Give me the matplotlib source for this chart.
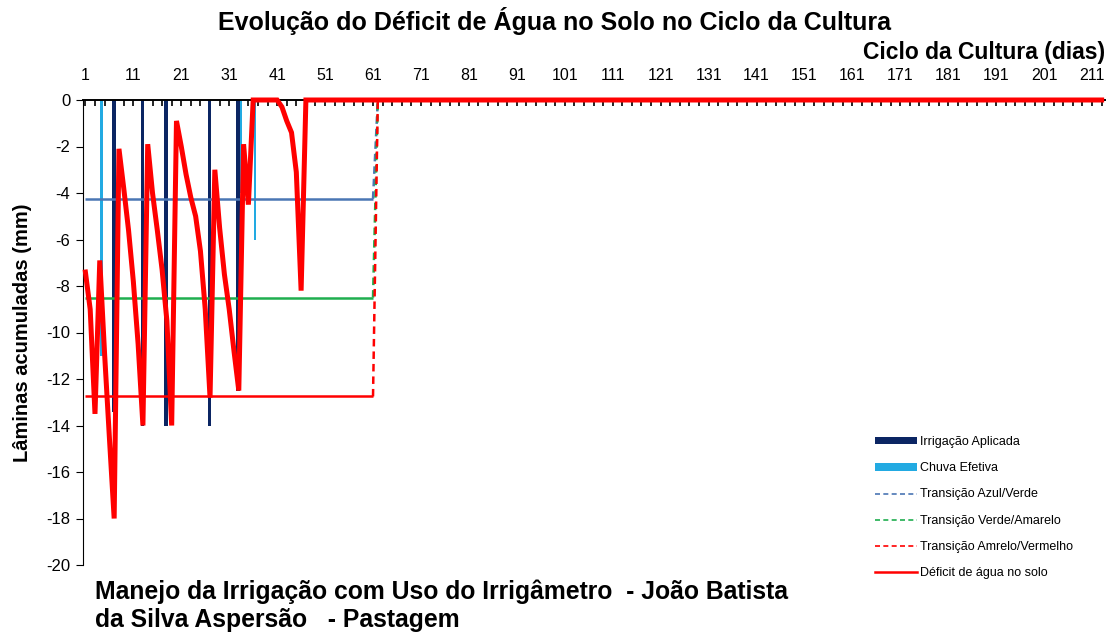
import matplotlib
matplotlib.use('Agg')
import matplotlib.pyplot as plt
import numpy as np
from matplotlib.patches import Patch
from matplotlib.lines import Line2D

# fonte tipo Arial
plt.rcParams['font.family'] = ['Liberation Sans', 'DejaVu Sans']

# Dados
irrig_dias = [7, 13, 18, 27, 33]
irrig_mm = [-13.4, -14.0, -14.0, -14.0, -12.5]

chuva_dias = [4, 33, 36]
chuva_mm = [-11.0, -4.0, -6.0]

deficit_dias = [1, 2, 3, 4, 5, 6, 7, 8, 9, 10, 11, 12, 13, 14, 15, 16, 17, 18, 19, 20,
                21, 22, 23, 24, 25, 26, 27, 28, 29, 30, 31, 32, 33, 34, 35, 36, 41,
                42, 43, 44, 45, 46, 47, 213]
deficit_mm = [-7.4, -9.0, -13.5, -6.9, -10.9, -14.5, -18.0, -2.1, -3.8, -5.6, -7.8, -10.5,
              -14.0, -1.9, -4.0, -5.6, -7.3, -9.5, -14.0, -0.9, -2.0, -3.2, -4.2, -5.0,
              -6.5, -9.0, -12.8, -3.0, -5.5, -7.5, -9.0, -10.8, -12.5, -1.9, -4.5, 0.0,
              0.0, -0.3, -0.9, -1.4, -3.1, -8.2, 0.0, 0.0]

# transições (constantes até o dia 61, zero a partir do dia 62)
trans_dias = [1, 61, 62, 213]
trans_azul = [-4.25, -4.25, 0.0, 0.0]
trans_verde = [-8.5, -8.5, 0.0, 0.0]
trans_vermelho = [-12.75, -12.75, 0.0, 0.0]

x_labels = [str(d) for d in range(1, 212, 10)]
y_ticks = list(range(0, -21, -2))

c_irrig = '#0b2563'
c_chuva = '#22aae2'
c_azul = '#4a76b4'
c_verde = '#1fae4f'
c_verm = '#ff0000'

fig = plt.figure(figsize=(11.1, 6.34), dpi=100)
ax = fig.add_axes([83 / 1110, 1 - 565 / 634, (1105 - 83) / 1110, (565 - 100) / 634])

ax.bar(np.array(irrig_dias) - 0.1, irrig_mm, width=0.8, color=c_irrig, zorder=2)
ax.bar(np.array(chuva_dias) + 0.4, chuva_mm, width=0.5, color=c_chuva, zorder=2)

# linhas das transições: trecho sólido e trecho tracejado
for vals, cor in [(trans_azul, c_azul), (trans_verde, c_verde), (trans_vermelho, c_verm)]:
    ax.plot(trans_dias[:2], vals[:2], color=cor, lw=1.8, zorder=3, solid_capstyle='butt')
    ax.plot(trans_dias[1:3], vals[1:3], color=cor, lw=1.8, ls=(0, (3, 2)), zorder=3)
    ax.plot(trans_dias[2:], vals[2:], color=cor, lw=1.8, zorder=3, clip_on=False)

ax.plot(deficit_dias, deficit_mm, color=c_verm, lw=3.6, zorder=4, clip_on=False,
        solid_joinstyle='miter')

ax.set_xlim(0.5, 213.7)
ax.set_ylim(-20, 0)

ax.xaxis.tick_top()
ticks_x = list(range(1, 214, 2))
ax.set_xticks(ticks_x)
ax.set_xticklabels([str(t) if str(t) in x_labels else '' for t in ticks_x])
ax.tick_params(axis='x', direction='in', length=4, width=1.2, pad=12, labelsize=11.5)
ax.set_yticks(y_ticks)
ax.set_yticklabels([str(v) for v in y_ticks])
ax.tick_params(axis='y', direction='out', length=5, width=0.8, pad=4, labelsize=12)

ax.spines['bottom'].set_visible(False)
ax.spines['right'].set_visible(False)
ax.spines['top'].set_linewidth(1.4)
ax.spines['left'].set_linewidth(0.8)

ax.set_ylabel('Lâminas acumuladas (mm)', fontsize=14.5, fontweight='bold', labelpad=10)

fig.text(0.5, 1 - 21 / 634, 'Evolução do Déficit de Água no Solo no Ciclo da Cultura',
         ha='center', va='center', fontsize=18, fontweight='bold')
fig.text(1105 / 1110, 1 - 52 / 634, 'Ciclo da Cultura (dias)', ha='right', va='center',
         fontsize=16.5, fontweight='bold')
fig.text(95 / 1110, 1 - 592 / 634, 'Manejo da Irrigação com Uso do Irrigâmetro  - João Batista',
         ha='left', va='center', fontsize=17.8, fontweight='bold')
fig.text(95 / 1110, 1 - 620 / 634, 'da Silva Aspersão   - Pastagem',
         ha='left', va='center', fontsize=17.8, fontweight='bold')

handles = [
    Patch(facecolor=c_irrig, edgecolor='none'),
    Patch(facecolor=c_chuva, edgecolor='none'),
    Line2D([], [], color=c_azul, lw=1.2, ls=(0, (3, 2))),
    Line2D([], [], color=c_verde, lw=1.2, ls=(0, (3, 2))),
    Line2D([], [], color=c_verm, lw=1.2, ls=(0, (3, 2))),
    Line2D([], [], color=c_verm, lw=1.8),
]
labels = ['Irrigação Aplicada', 'Chuva Efetiva', 'Transição Azul/Verde',
          'Transição Verde/Amarelo', 'Transição Amrelo/Vermelho', 'Déficit de água no solo']
fig.legend(handles, labels, loc='upper left', bbox_to_anchor=(864 / 1110, 1 - 425 / 634),
           frameon=False, fontsize=9, handlelength=3.3, handleheight=0.5,
           labelspacing=1.13, handletextpad=0.3)

fig.savefig('out.png', dpi=100)
